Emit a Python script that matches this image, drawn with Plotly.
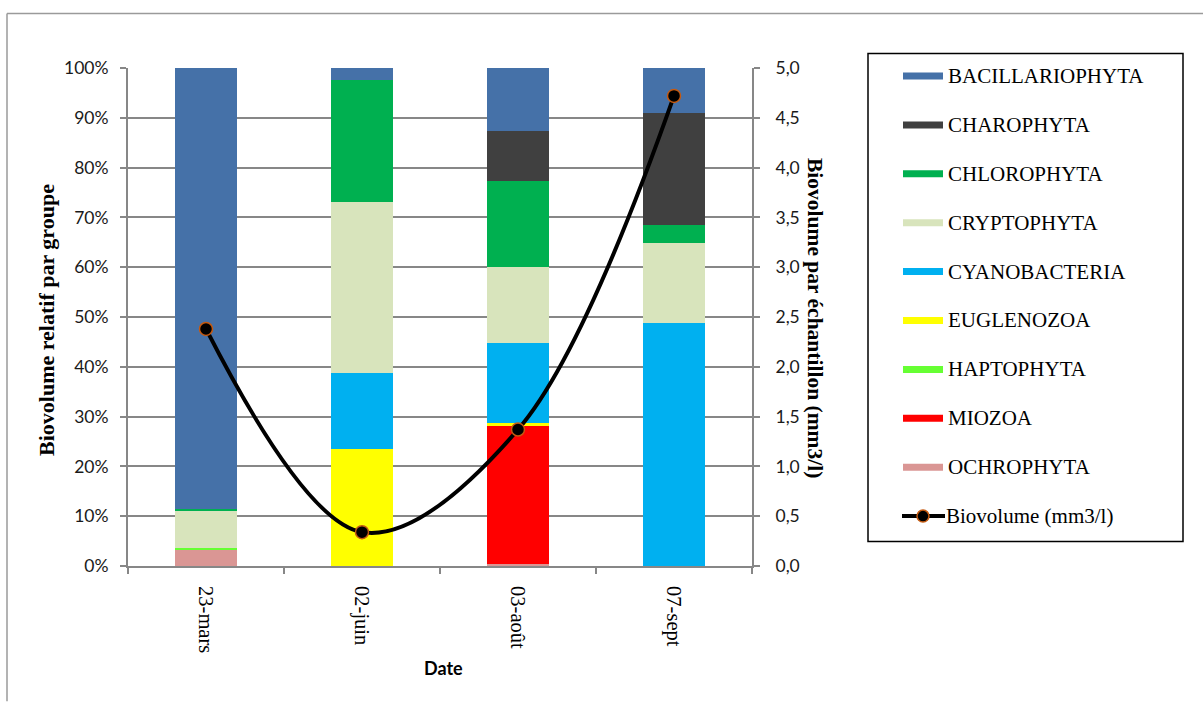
import plotly.graph_objects as go

# Sampling dates
dates = ["23-mars", "02-juin", "03-août", "07-sept"]

# Relative biovolume per group (%), stacked from bottom to top
ochrophyta = [3.3, 0.0, 0.4, 0.0]
miozoa = [0.0, 0.0, 27.8, 0.0]
haptophyta = [0.3, 0.0, 0.0, 0.0]
euglenozoa = [0.0, 23.5, 0.5, 0.0]
cyanobacteria = [0.0, 15.2, 16.1, 48.7]
cryptophyta = [7.6, 34.3, 15.3, 16.1]
chlorophyta = [0.3, 24.6, 17.2, 3.7]
charophyta = [0.0, 0.0, 10.0, 22.5]
bacillariophyta = [88.5, 2.4, 12.7, 9.0]

# Total biovolume per sample (mm3/l)
biovolume = [2.38, 0.34, 1.37, 4.72]

pct_ticks = [0, 10, 20, 30, 40, 50, 60, 70, 80, 90, 100]
pct_labels = [f"{v}%" for v in pct_ticks]
bv_ticks = [0.0, 0.5, 1.0, 1.5, 2.0, 2.5, 3.0, 3.5, 4.0, 4.5, 5.0]
bv_labels = [f"{v:.1f}".replace(".", ",") for v in bv_ticks]

groups = [
    ("BACILLARIOPHYTA", bacillariophyta, "#4571A8"),
    ("CHAROPHYTA", charophyta, "#404040"),
    ("CHLOROPHYTA", chlorophyta, "#00B050"),
    ("CRYPTOPHYTA", cryptophyta, "#D8E4BC"),
    ("CYANOBACTERIA", cyanobacteria, "#00B0F0"),
    ("EUGLENOZOA", euglenozoa, "#FFFF00"),
    ("HAPTOPHYTA", haptophyta, "#66FF33"),
    ("MIOZOA", miozoa, "#FF0000"),
    ("OCHROPHYTA", ochrophyta, "#DA9694"),
]

fig = go.Figure()

# Stack from the bottom group upwards
for name, vals, col in reversed(groups):
    fig.add_trace(go.Bar(
        x=dates, y=vals, name=name, marker=dict(color=col, line=dict(width=0)),
        width=0.395, showlegend=False,
    ))

fig.add_trace(go.Scatter(
    x=dates, y=biovolume, yaxis="y2", name="Biovolume (mm3/l)",
    mode="lines+markers", line=dict(color="black", width=4, shape="spline", smoothing=1.0),
    marker=dict(size=13, color="black", line=dict(color="#C55A11", width=1.5)),
    showlegend=False,
))

# Plot area geometry in pixels
W, H = 1203, 702
L, R, T, B = 128, 752, 67.5, 566.5


def px(x):
    return (x - L) / (R - L)


def py(y):
    return (B - y) / (B - T)


serif = "Liberation Serif"
sans = "Lato"
grid = "#878787"

shapes = []
annotations = []

# Outer chart frame (left and top edges)
shapes.append(dict(type="line", xref="paper", yref="paper", x0=px(7), x1=px(7), y0=py(13), y1=py(702),
                   line=dict(color="#9A9A9A", width=1.5)))
shapes.append(dict(type="line", xref="paper", yref="paper", x0=px(7), x1=px(1203), y0=py(13), y1=py(13),
                   line=dict(color="#9A9A9A", width=1.5)))

# Legend box
shapes.append(dict(type="rect", xref="paper", yref="paper", x0=px(868), x1=px(1183), y0=py(53), y1=py(542),
                   line=dict(color="black", width=1.5), fillcolor="white"))

legend_y0 = 75.5
legend_step = 49.0
for i, (name, _, col) in enumerate(groups):
    yc = legend_y0 + legend_step * i
    shapes.append(dict(type="rect", xref="paper", yref="paper", x0=px(903), x1=px(943),
                       y0=py(yc - 3.5), y1=py(yc + 3.5), line=dict(width=0), fillcolor=col))
    annotations.append(dict(xref="paper", yref="paper", x=px(946), y=py(yc), text=name, showarrow=False,
                            xanchor="left", yanchor="middle", font=dict(family=serif, size=21, color="black")))

yc = legend_y0 + legend_step * len(groups)
shapes.append(dict(type="line", xref="paper", yref="paper", x0=px(902), x1=px(945), y0=py(yc), y1=py(yc),
                   line=dict(color="black", width=4)))
shapes.append(dict(type="circle", xref="paper", yref="paper", x0=px(917), x1=px(929),
                   y0=py(yc + 6), y1=py(yc - 6), fillcolor="black", line=dict(color="#C55A11", width=1.5)))
annotations.append(dict(xref="paper", yref="paper", x=px(944), y=py(yc), text="Biovolume (mm3/l)",
                        showarrow=False, xanchor="left", yanchor="middle",
                        font=dict(family=serif, size=21, color="black")))

# Axis titles
annotations.append(dict(xref="paper", yref="paper", x=px(47), y=py(320), text="<b>Biovolume relatif par groupe</b>",
                        showarrow=False, textangle=-90, xanchor="center", yanchor="middle",
                        font=dict(family=serif, size=22, color="black")))
annotations.append(dict(xref="paper", yref="paper", x=px(815), y=py(318),
                        text="<b>Biovolume par échantillon (mm3/l)</b>",
                        showarrow=False, textangle=90, xanchor="center", yanchor="middle",
                        font=dict(family=serif, size=21.5, color="black")))
annotations.append(dict(xref="paper", yref="paper", x=px(443), y=py(669), text="<b>Date</b>",
                        showarrow=False, xanchor="center", yanchor="middle",
                        font=dict(family=sans, size=18, color="black")))

fig.update_layout(
    width=W, height=H,
    margin=dict(l=L, r=W - R, t=T, b=H - B, pad=0),
    paper_bgcolor="white", plot_bgcolor="white",
    barmode="stack", bargap=0.6,
    showlegend=False,
    xaxis=dict(
        type="category", tickson="boundaries", ticks="outside", ticklen=6, tickcolor=grid, tickwidth=1.5,
        showline=True, linecolor=grid, linewidth=2, showgrid=False, tickangle=90,
        tickfont=dict(family=serif, size=20.5, color="black"), range=[-0.5, 3.5], ticklabelstandoff=14,
    ),
    yaxis=dict(
        range=[0, 100], tickvals=pct_ticks, ticktext=pct_labels, ticks="outside", ticklen=6,
        tickcolor=grid, tickwidth=1.5, showline=True, linecolor=grid, linewidth=2,
        showgrid=True, gridcolor=grid, gridwidth=1.8, zeroline=False,
        tickfont=dict(family=sans, size=17.5, color="#1A1A1A"), ticklabelstandoff=8,
    ),
    yaxis2=dict(
        range=[0, 5], tickvals=bv_ticks, ticktext=bv_labels, overlaying="y", side="right",
        ticks="outside", ticklen=6, tickcolor=grid, tickwidth=1.5, showline=True, linecolor=grid,
        linewidth=2, showgrid=False, zeroline=False,
        tickfont=dict(family=sans, size=17.5, color="#1A1A1A"), ticklabelstandoff=12,
    ),
    shapes=shapes,
    annotations=annotations,
)

fig.write_html("out.html")
